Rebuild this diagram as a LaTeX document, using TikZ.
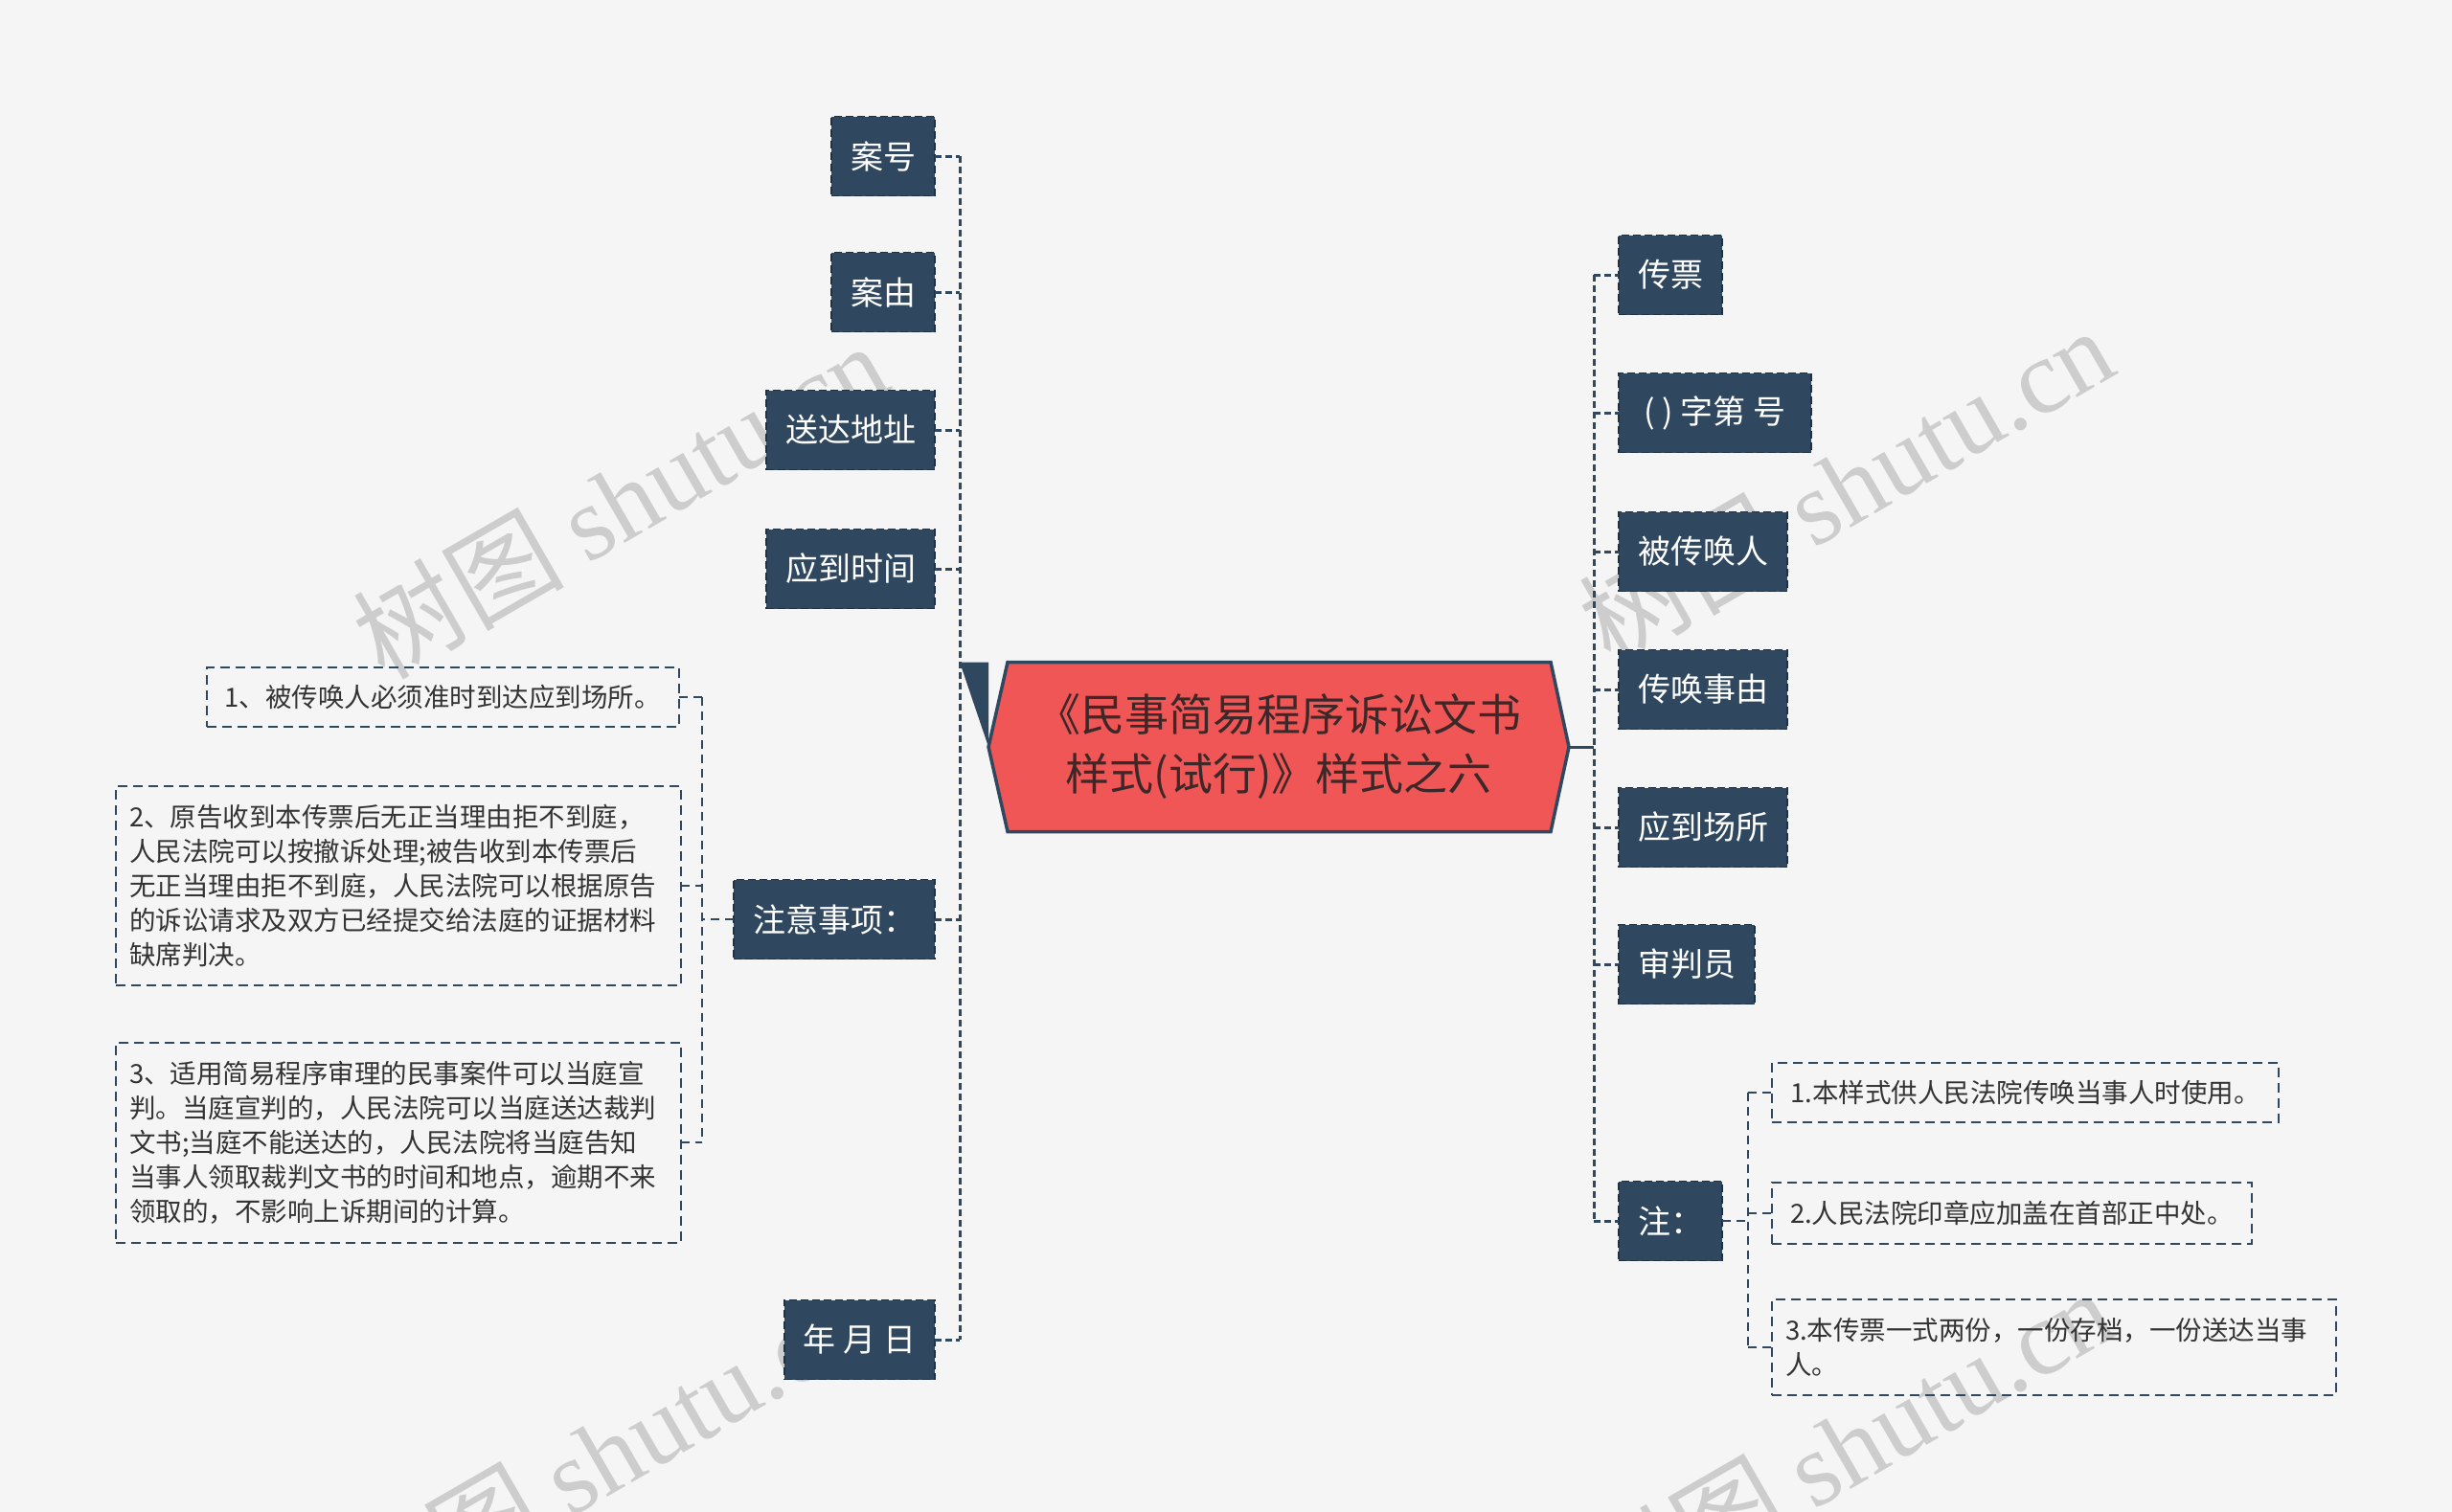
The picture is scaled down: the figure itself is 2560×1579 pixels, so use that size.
\documentclass[tikz,border=0pt]{standalone}
\usepackage{fontspec}
\setmainfont{Noto Sans CJK SC}
\newfontfamily\wmlatin{Liberation Serif}
\usetikzlibrary{calc}
\definecolor{bgc}{HTML}{F5F5F5}
\definecolor{nodec}{HTML}{30485F}
\definecolor{nodeb}{HTML}{1F3142}
\definecolor{linec}{HTML}{30485F}
\definecolor{rootc}{HTML}{F05656}
\definecolor{roott}{HTML}{3C2828}
\definecolor{notet}{HTML}{333333}
\definecolor{wmc}{HTML}{CDCDCD}
\pgfdeclarelayer{bglayer}
\pgfdeclarelayer{midlayer}
\pgfsetlayers{bglayer,midlayer,main}
\begin{document}
\begin{tikzpicture}[x=1pt,y=-1pt,
  every node/.style={outer sep=0pt},
  lbl/.style={fill=nodec, draw=nodeb, line width=1.5pt, dash pattern=on 8pt off 4pt,
    text=white, font=\fontsize{34}{40}\selectfont, inner xsep=20pt, inner ysep=0pt,
    minimum height=83pt},
  lblL/.style={lbl, anchor=east},
  lblR/.style={lbl, anchor=west},
  notebox/.style={draw=linec, line width=2pt, dash pattern=on 10pt off 6pt, text=notet,
    font=\fontsize{27.5}{36}\selectfont, inner xsep=14pt, inner ysep=13pt, align=left},
  conn/.style={draw=linec, line width=3pt, dash pattern=on 7pt off 4pt},
  thinconn/.style={draw=linec, line width=2pt, dash pattern=on 9pt off 6pt},
  wm/.style={text=wmc, font=\fontsize{110}{110}\selectfont, rotate=30},
  roottext/.style={text=roott, font=\fontsize{46}{62}\selectfont, align=center,
    minimum width=606pt, minimum height=177pt, inner sep=0pt},
  rootshape/.style={fill=rootc, draw=nodec, line width=3.5pt, line join=miter}]
\useasboundingbox (0,0) rectangle (2560,1579);

\begin{pgfonlayer}{bglayer}
  \fill[bgc] (0,0) rectangle (2560,1579);
  \begin{scope}
    \clip (0,0) rectangle (2560,1579);
    \node[wm] (wm1) at (647,522) {树图 {\wmlatin shutu.cn}};
    \node[wm] (wm2) at (1927,506) {树图 {\wmlatin shutu.cn}};
    \node[wm] (wm3) at (629,1518) {树图 {\wmlatin shutu.cn}};
    \node[wm] (wm4) at (1927,1510) {树图 {\wmlatin shutu.cn}};
  \end{scope}
\end{pgfonlayer}

% root
\node[roottext] (root) at (1335,780) {《民事简易程序诉讼文书\\样式(试行)》样式之六};
\begin{pgfonlayer}{midlayer}
  \draw[rootshape] (root.west) -- ($(root.north west)+(20,0)$) -- ($(root.north east)+(-19,0)$)
    -- (root.east) -- ($(root.south east)+(-19,0)$) -- ($(root.south west)+(20,0)$) -- cycle;
\end{pgfonlayer}

% left labels
\node[lblL] (anhao) at (976,163) {案号};
\node[lblL] (anyou) at (976,305) {案由};
\node[lblL] (songda) at (976,449) {送达地址};
\node[lblL] (yingdao) at (976,594) {应到时间};
\node[lblL] (zhuyi) at (976,960) {注意事项：};
\node[lblL] (nyr) at (976,1399) {年 月 日};

% right labels
\node[lblR] (chuanpiao) at (1690,287) {传票};
\node[lblR, minimum width=201pt] (zihao) at (1690,431) {( ) 字第 号};
\node[lblR] (bei) at (1690,576) {被传唤人};
\node[lblR] (shiyou) at (1690,720) {传唤事由};
\node[lblR] (changsuo) at (1690,864) {应到场所};
\node[lblR] (shenpan) at (1690,1007) {审判员};
\node[lblR] (zhu) at (1690,1275) {注：};

% left notes
\node[notebox, anchor=east, minimum height=62pt, minimum width=493pt] (ln1) at (708.6,728) {1、被传唤人必须准时到达应到场所。};
\node[notebox, anchor=west, text width=562pt, minimum height=208pt] (ln2) at (121,925)
  {2、原告收到本传票后无正当理由拒不到庭，\\人民法院可以按撤诉处理;被告收到本传票后\\无正当理由拒不到庭，人民法院可以根据原告\\的诉讼请求及双方已经提交给法庭的证据材料\\缺席判决。};
\node[notebox, anchor=west, text width=562pt, minimum height=209pt] (ln3) at (121,1193)
  {3、适用简易程序审理的民事案件可以当庭宣\\判。当庭宣判的，人民法院可以当庭送达裁判\\文书;当庭不能送达的，人民法院将当庭告知\\当事人领取裁判文书的时间和地点，逾期不来\\领取的，不影响上诉期间的计算。};

% right notes
\node[notebox, anchor=west, minimum height=62pt, minimum width=529pt] (rn1) at (1850,1141) {1.本样式供人民法院传唤当事人时使用。};
\node[notebox, anchor=west, minimum height=64pt, minimum width=501pt] (rn2) at (1850,1267) {2.人民法院印章应加盖在首部正中处。};
\node[notebox, anchor=west, text width=561pt, minimum height=100pt] (rn3) at (1850,1407) {3.本传票一式两份，一份存档，一份送达当事\\人。};

% trunk coordinates
\coordinate (LT) at (1002,780);
\coordinate (RT) at (1664,780);
\coordinate (LN) at (733,960);
\coordinate (RN) at (1825,1275);

% left trunk
\fill[nodec] (root.north west -| LT) -- (root.north west) -- (root.west) -- cycle;
\draw[conn] (anhao.east -| LT) -- (nyr.east -| LT);
\foreach \n in {anhao,anyou,songda,yingdao,zhuyi,nyr}
  \draw[conn] (\n.east) -- (\n.east -| LT);

% right trunk
\draw[draw=linec, line width=3pt] (root.east) -- (RT);
\draw[conn] (chuanpiao.west -| RT) -- (zhu.west -| RT);
\foreach \n in {chuanpiao,zihao,bei,shiyou,changsuo,shenpan,zhu}
  \draw[conn] (\n.west -| RT) -- (\n.west);

% left notes connectors
\draw[thinconn] (zhuyi.west) -- (zhuyi.west -| LN);
\draw[thinconn] (ln1.east -| LN) -- (ln3.east -| LN);
\foreach \n in {ln1,ln2,ln3}
  \draw[thinconn] (\n.east) -- (\n.east -| LN);

% right notes connectors
\draw[thinconn] (zhu.east) -- (zhu.east -| RN);
\draw[thinconn] (rn1.west -| RN) -- (rn3.west -| RN);
\foreach \n in {rn1,rn2,rn3}
  \draw[thinconn] (\n.west -| RN) -- (\n.west);
\end{tikzpicture}
\end{document}
